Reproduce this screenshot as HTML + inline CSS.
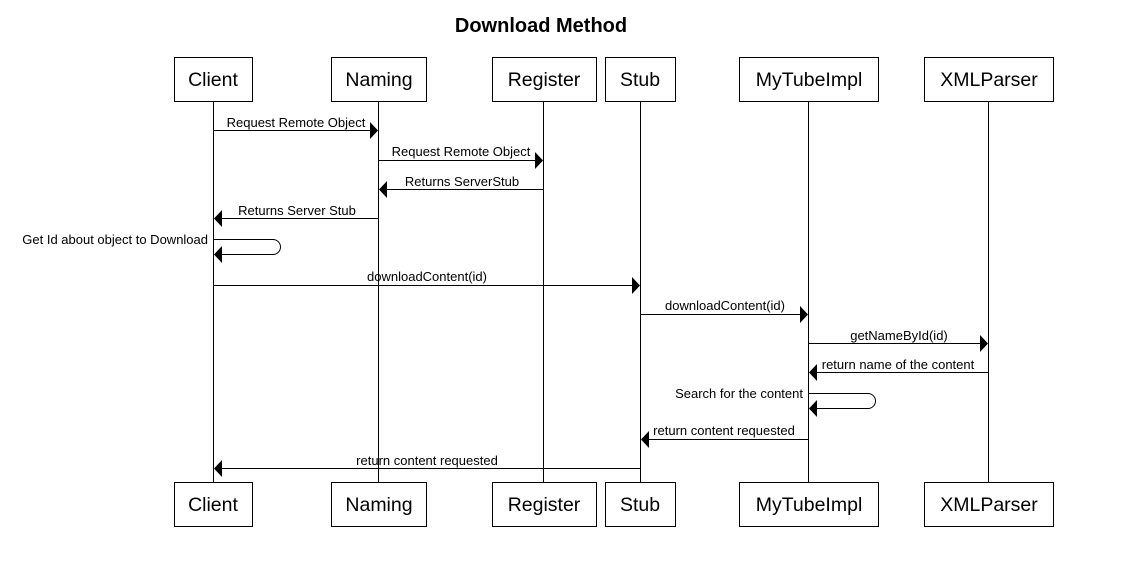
<!DOCTYPE html>
<html><head><meta charset="utf-8"><style>html,body{margin:0;padding:0;background:#fff;}svg{display:block;}</style></head>
<body>
<svg width="1128" height="566" xmlns="http://www.w3.org/2000/svg" font-family="Liberation Sans, Arial, sans-serif">
<rect width="1128" height="566" fill="#fff"/>
<text x="541" y="32" text-anchor="middle" font-size="20" font-weight="bold">Download Method</text>
<g stroke="#000" stroke-width="1" fill="none">
<line x1="213.5" y1="101" x2="213.5" y2="482"/>
<line x1="378.5" y1="101" x2="378.5" y2="482"/>
<line x1="543.5" y1="101" x2="543.5" y2="482"/>
<line x1="640.5" y1="101" x2="640.5" y2="482"/>
<line x1="808.5" y1="101" x2="808.5" y2="482"/>
<line x1="988.5" y1="101" x2="988.5" y2="482"/>
</g>
<g stroke="#000" fill="#fff">
<rect x="174.5" y="57.5" width="78" height="44"/><rect x="331.5" y="57.5" width="95" height="44"/>
<rect x="492.5" y="57.5" width="104" height="44"/><rect x="605.5" y="57.5" width="70" height="44"/>
<rect x="739.5" y="57.5" width="139" height="44"/><rect x="924.5" y="57.5" width="129" height="44"/>
<rect x="174.5" y="482.5" width="78" height="44"/><rect x="331.5" y="482.5" width="95" height="44"/>
<rect x="492.5" y="482.5" width="104" height="44"/><rect x="605.5" y="482.5" width="70" height="44"/>
<rect x="739.5" y="482.5" width="139" height="44"/><rect x="924.5" y="482.5" width="129" height="44"/>
</g>
<g font-size="19.5" text-anchor="middle">
<text x="213" y="86">Client</text><text x="379" y="86">Naming</text><text x="544" y="86">Register</text><text x="640" y="86">Stub</text><text x="809" y="86">MyTubeImpl</text><text x="989" y="86">XMLParser</text>
<text x="213" y="511">Client</text><text x="379" y="511">Naming</text><text x="544" y="511">Register</text><text x="640" y="511">Stub</text><text x="809" y="511">MyTubeImpl</text><text x="989" y="511">XMLParser</text>
</g>
<g stroke="#000" fill="none">
<line x1="213" y1="130.5" x2="370" y2="130.5"/>
<line x1="378" y1="160.5" x2="535" y2="160.5"/>
<line x1="387" y1="189.5" x2="543" y2="189.5"/>
<line x1="222" y1="218.5" x2="378" y2="218.5"/>
<path d="M213 239.5 H273 a7.5 7.5 0 0 1 0 15 H222"/>
<line x1="213" y1="285.5" x2="632" y2="285.5"/>
<line x1="640" y1="314.5" x2="800" y2="314.5"/>
<line x1="808" y1="343.5" x2="980" y2="343.5"/>
<line x1="817" y1="372.5" x2="988" y2="372.5"/>
<path d="M808 393.5 H868 a7.5 7.5 0 0 1 0 15 H817"/>
<line x1="649" y1="439.5" x2="808" y2="439.5"/>
<line x1="222" y1="468.5" x2="640" y2="468.5"/>
</g>
<g fill="#000">
<polygon points="370,122 378,130.5 370,139"/>
<polygon points="535,152 543,160.5 535,169"/>
<polygon points="387,181 379,189.5 387,198"/>
<polygon points="222,210 214,218.5 222,227"/>
<polygon points="222,246 214,254.5 222,263"/>
<polygon points="632,277 640,285.5 632,294"/>
<polygon points="800,306 808,314.5 800,323"/>
<polygon points="980,335 988,343.5 980,352"/>
<polygon points="817,364 809,372.5 817,381"/>
<polygon points="817,400 809,408.5 817,417"/>
<polygon points="649,431 641,439.5 649,448"/>
<polygon points="222,460 214,468.5 222,477"/>
</g>
<g font-size="13" text-anchor="middle">
<text x="296" y="127">Request Remote Object</text>
<text x="461" y="156">Request Remote Object</text>
<text x="462" y="186">Returns ServerStub</text>
<text x="297" y="215">Returns Server Stub</text>
<text x="208" y="244" text-anchor="end">Get Id about object to Download</text>
<text x="427" y="281">downloadContent(id)</text>
<text x="725" y="310">downloadContent(id)</text>
<text x="899" y="340">getNameById(id)</text>
<text x="898" y="369">return name of the content</text>
<text x="803" y="398" text-anchor="end">Search for the content</text>
<text x="724" y="435">return content requested</text>
<text x="427" y="465">return content requested</text>
</g>
</svg>
</body></html>
